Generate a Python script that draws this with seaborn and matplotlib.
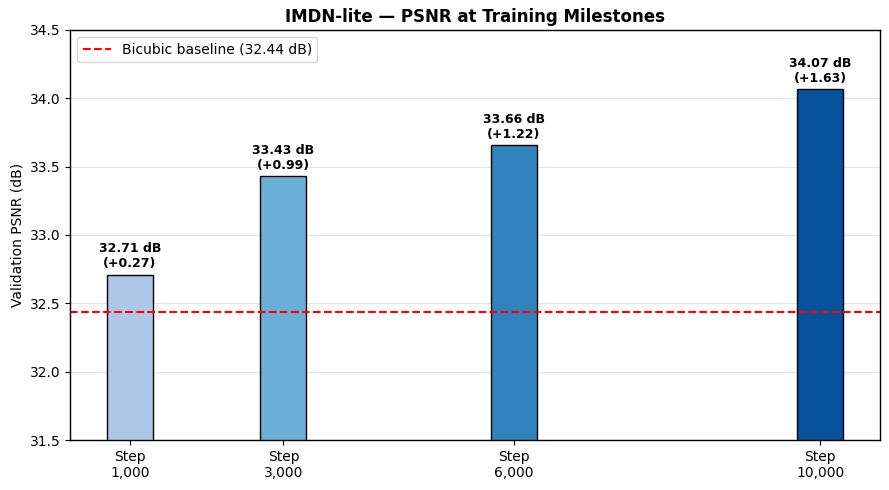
import numpy as np
import matplotlib
matplotlib.use("Agg")
import matplotlib.pyplot as plt
import seaborn as sns

# data
steps = [1000, 3000, 6000, 10000]
psnr = [32.71, 33.43, 33.66, 34.07]
baseline = 32.44
bar_colors = ["#aec7e8", "#6baed6", "#3182bd", "#08519c"]
tick_labels = ["Step\n1,000", "Step\n3,000", "Step\n6,000", "Step\n10,000"]

sns.set_style("white")
plt.rcParams['font.family'] = ['DejaVu Sans']
plt.rcParams.update({"text.color": "black", "axes.labelcolor": "black",
                     "xtick.color": "black", "ytick.color": "black",
                     "axes.edgecolor": "black"})

fig, ax = plt.subplots(figsize=(8.89, 4.9), dpi=100)

sns.barplot(x=steps, y=psnr, hue=steps, palette=bar_colors, native_scale=True,
            width=0.3, edgecolor="black", linewidth=1, legend=False, ax=ax,
            saturation=1)

ax.axhline(baseline, color="red", linestyle="--", linewidth=1.5,
           label=f"Bicubic baseline ({baseline:.2f} dB)")

# value labels above each bar
for s, v in zip(steps, psnr):
    ax.annotate(f"{v:.2f} dB\n(+{v - baseline:.2f})", xy=(s, v), xytext=(0, 3),
                textcoords="offset points", ha="center", va="bottom",
                fontsize=9, fontweight="bold", linespacing=1.2)

ax.set_ylim(31.5, 34.5)
ax.set_xlim(220, 10780)
ax.set_xticks(steps)
ax.set_xticklabels(tick_labels)
ax.set_ylabel("Validation PSNR (dB)")
ax.set_xlabel("")
ax.set_title("IMDN-lite — PSNR at Training Milestones", fontweight="bold",
             fontsize=12)
ax.yaxis.grid(True, color="#e6e6e6", linewidth=0.8)
ax.set_axisbelow(True)
ax.tick_params(axis="both", which="both", length=3.5, direction="out",
               left=True, bottom=True, labelsize=10)
for sp in ax.spines.values():
    sp.set_color("black")
    sp.set_linewidth(1)
ax.legend(loc="upper left", fontsize=10)

fig.subplots_adjust(left=0.079, right=0.99, top=0.939, bottom=0.102)
plt.savefig("out.png", dpi=100)
